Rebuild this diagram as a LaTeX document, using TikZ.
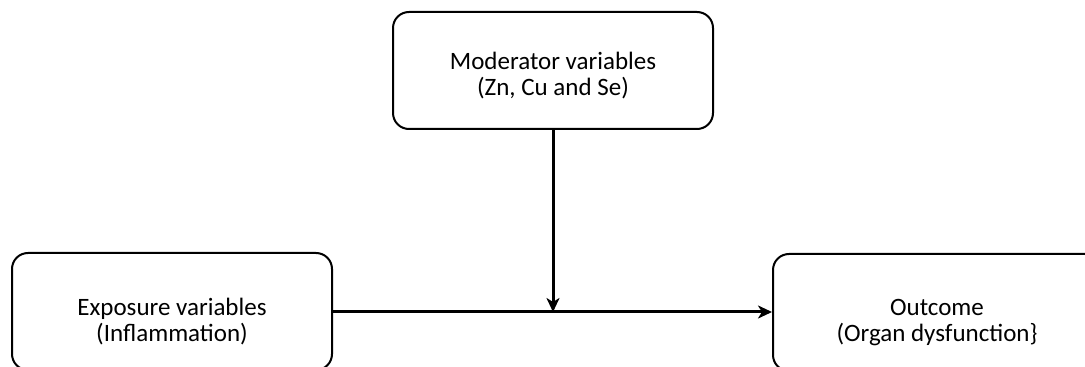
\documentclass[tikz,border=0pt]{standalone}
\usepackage{fontspec}
\setmainfont{Carlito}
\usetikzlibrary{arrows.meta}
\begin{document}
\begin{tikzpicture}[x=1pt,y=1pt,
  varbox/.style={draw=black, line width=2pt, rounded corners=16pt, inner sep=0pt},
  vartext/.style={align=center, font=\fontsize{25}{25.5}\selectfont, inner sep=0pt},
  flow/.style={line width=3pt, -{Stealth[length=14pt,width=13pt,inset=4pt]}}]
  \useasboundingbox (0,0) rectangle (1085,367);
  \clip (0,0) rectangle (1085,367);
  \fill[white] (0,0) rectangle (1085,367);
  % moderator on top, exposure and outcome below
  \node[varbox, minimum width=320pt, minimum height=117pt] (mod) at (553,296.5) {};
  \node[varbox, minimum width=320pt, minimum height=117pt] (exp) at (172,55.5) {};
  \node[varbox, minimum width=328pt, minimum height=117pt] (out) at (937,54.5) {};
  \node[vartext] (modt) at ([yshift=-5pt]mod.center) {Moderator variables\\(Zn, Cu and Se)};
  \node[vartext] (expt) at ([yshift=-10pt]exp.center) {Exposure variables\\(Inflammation)};
  \node[vartext] (outt) at ([yshift=-10pt]out.center) {Outcome\\(Organ dysfunction\}};
  \coordinate (hit) at (mod.south |- 0,55);
  \draw[flow] (exp.east |- 0,55) -- (out.west |- 0,55);
  \draw[flow] (mod.south) -- (hit);
\end{tikzpicture}
\end{document}
